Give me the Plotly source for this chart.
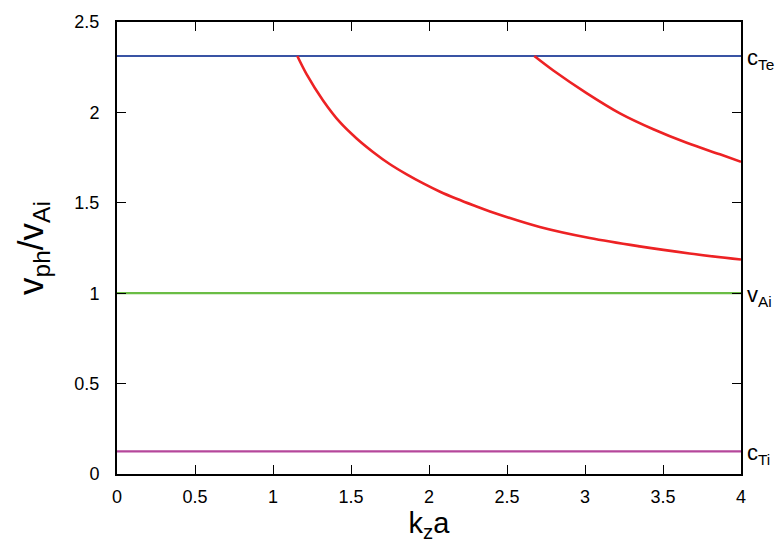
import plotly.graph_objects as go

# Data
c_Te = 2.312
v_Ai = 1.0
c_Ti = 0.125
x_range = [0, 4]

mode1_x = [1.156, 1.215, 1.322, 1.429, 1.536, 1.643, 1.750, 1.857, 1.963, 2.071, 2.177, 2.284, 2.391, 2.71, 3.03, 3.35, 3.67, 4.0]
mode1_y = [2.312, 2.212, 2.065, 1.946, 1.856, 1.780, 1.713, 1.657, 1.607, 1.561, 1.522, 1.486, 1.452, 1.366, 1.305, 1.259, 1.220, 1.186]
mode2_x = [2.675, 2.797, 3.010, 3.224, 3.438, 3.652, 3.865, 4.0]
mode2_y = [2.312, 2.232, 2.107, 1.995, 1.907, 1.832, 1.768, 1.727]

x_ticks = [0, 0.5, 1, 1.5, 2, 2.5, 3, 3.5, 4]
y_ticks = [0, 0.5, 1, 1.5, 2, 2.5]

fig = go.Figure()
fig.add_trace(go.Scatter(x=x_range, y=[c_Te, c_Te], mode="lines", line=dict(color="#3953a4", width=2.2)))
fig.add_trace(go.Scatter(x=x_range, y=[v_Ai, v_Ai], mode="lines", line=dict(color="#6abd45", width=2.2)))
fig.add_trace(go.Scatter(x=x_range, y=[c_Ti, c_Ti], mode="lines", line=dict(color="#b5479b", width=2.2)))
fig.add_trace(go.Scatter(x=mode1_x, y=mode1_y, mode="lines", line=dict(color="#ed2224", width=2.6, shape="spline", smoothing=1.0)))
fig.add_trace(go.Scatter(x=mode2_x, y=mode2_y, mode="lines", line=dict(color="#ed2224", width=2.6, shape="spline", smoothing=1.0)))

font_family = "Liberation Sans, Arial, sans-serif"
for val, txt in [(c_Te, "c<sub>Te</sub>"), (v_Ai, "v<sub>Ai</sub>"), (c_Ti, "c<sub>Ti</sub>")]:
    fig.add_annotation(x=1, xref="paper", y=val, yref="y", text=txt, showarrow=False,
                       xanchor="left", yanchor="middle", xshift=4, yshift=-3,
                       font=dict(family=font_family, size=22, color="black"))

axis_common = dict(showline=True, linecolor="black", linewidth=2, mirror="ticks",
                   ticks="inside", ticklen=9, tickwidth=1.3, tickcolor="black",
                   showgrid=False, zeroline=False,
                   tickfont=dict(family=font_family, size=18, color="black"))

fig.update_layout(
    width=779, height=543,
    margin=dict(l=117, r=38, t=17, b=69),
    paper_bgcolor="white", plot_bgcolor="white",
    showlegend=False,
    font=dict(family=font_family, color="black"),
    xaxis=dict(range=[0, 4], tickvals=x_ticks, ticktext=[f"{v:g}" for v in x_ticks],
               ticklabelstandoff=5,
               title=dict(text="k<sub>z</sub>a", font=dict(size=29), standoff=4), **axis_common),
    yaxis=dict(range=[0, 2.5], tickvals=y_ticks, ticktext=[f"{v:g}" for v in y_ticks],
               ticklabelstandoff=12,
               title=dict(text="v<sub>ph</sub>/v<sub>Ai</sub>", font=dict(size=35), standoff=20), **axis_common),
)

fig.write_html("out.html")
